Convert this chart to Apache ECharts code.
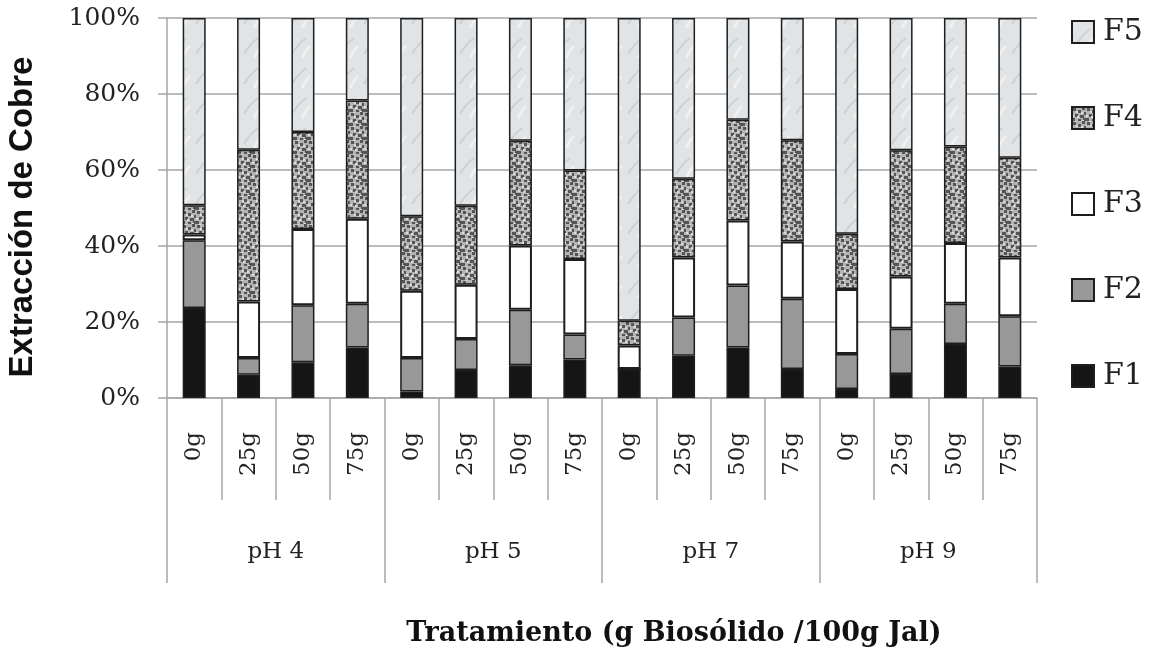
<!DOCTYPE html>
<html>
<head>
<meta charset="utf-8">
<script src="https://cdn.jsdelivr.net/npm/echarts@6/dist/echarts.min.js"></script>
<style>
html,body{margin:0;padding:0;background:#fff;}
#chart{width:1150px;height:656px;}
</style>
</head>
<body>
<div id="chart"></div>
<script>
// ---- data ----
const doses = ['0g','25g','50g','75g','0g','25g','50g','75g','0g','25g','50g','75g','0g','25g','50g','75g'];
const groups = ['pH 4','pH 5','pH 7','pH 9'];
const yTicks = [0, 20, 40, 60, 80, 100];
const F1 = [23.7, 6.1, 9.4, 13.3,  1.7, 7.4, 8.6, 10.1,  7.6, 11.1, 13.3, 7.6,  2.4, 6.3, 14.2, 8.3];
const F2 = [17.8, 4.4, 15.0, 11.5,  8.8, 8.1, 14.6, 6.6,  0.0, 10.1, 16.3, 18.5,  9.2, 11.9, 10.6, 13.2];
const F3 = [1.5, 14.9, 20.1, 22.4,  17.7, 14.3, 16.9, 19.9,  6.2, 15.8, 17.1, 15.1,  17.1, 13.8, 16.0, 15.5];
const F4 = [7.7, 39.9, 25.5, 31.1,  19.6, 20.8, 27.6, 23.3,  6.5, 20.7, 26.5, 26.6,  14.5, 33.2, 25.4, 26.2];
const F5 = [49.3, 34.7, 30.0, 21.7,  52.2, 49.4, 32.3, 40.1,  79.7, 42.3, 26.8, 32.2,  56.8, 34.8, 33.8, 36.8];
const seriesNames = ['F1','F2','F3','F4','F5'];
const seriesData = [F1, F2, F3, F4, F5];
const axisTitleX = 'Tratamiento (g Biosólido /100g Jal)';
const axisTitleY = 'Extracción de Cobre';

// ---- textures (fixed, deterministic) ----
function speckle() {
  const c = document.createElement('canvas');
  c.width = 14; c.height = 14;
  const g = c.getContext('2d');
  g.fillStyle = '#b4b4b4'; g.fillRect(0,0,14,14);
  g.fillStyle = '#555555';
  [[1,1,3,3],[6,3,3,3],[10,0,3,3],[3,7,3,3],[8,8,4,3],[12,5,2,3],[0,11,3,3],[6,12,3,2],[11,11,3,3]].forEach(r=>g.fillRect(r[0],r[1],r[2],r[3]));
  g.fillStyle = '#dcdcdc';
  [[4,4,2,2],[9,5,2,2],[0,8,2,2],[5,9,2,2],[10,13,2,1],[3,0,2,1]].forEach(r=>g.fillRect(r[0],r[1],r[2],r[3]));
  return c;
}
function marble() {
  const c = document.createElement('canvas');
  c.width = 24; c.height = 30;
  const g = c.getContext('2d');
  g.fillStyle = '#e1e4e6'; g.fillRect(0,0,24,30);
  g.strokeStyle = '#cdd1d4'; g.lineWidth = 2;
  g.beginPath(); g.moveTo(4,24); g.quadraticCurveTo(10,14,18,8); g.stroke();
  g.strokeStyle = '#eef0f1'; g.lineWidth = 3;
  g.beginPath(); g.moveTo(14,28); g.quadraticCurveTo(18,20,22,16); g.stroke();
  return c;
}

const fills = ['#151515', '#989898', '#ffffff',
  {image: speckle(), repeat: 'repeat'},
  {image: marble(), repeat: 'repeat'}];

const chart = echarts.init(document.getElementById('chart'), null, {renderer: 'canvas'});

const serif = 'DejaVu Serif';
const gridCol = '#a6a6a6';

const option = {
  backgroundColor: '#ffffff',
  animation: false,
  grid: {left: 167, right: 113, top: 18, bottom: 258, containLabel: false},
  legend: {
    data: ['F5','F4','F3','F2','F1'],
    orient: 'vertical',
    left: 1066, top: 12,
    itemWidth: 22, itemHeight: 22,
    itemGap: 56,
    icon: 'rect',
    textStyle: {fontFamily: serif, fontSize: 30, color: '#222', padding: [0,0,0,4]}
  },
  xAxis: [
    {
      type: 'category',
      data: doses,
      position: 'bottom',
      axisLine: {show: true, lineStyle: {color: gridCol, width: 1.5}},
      axisTick: {show: true, interval: 0, length: 102, lineStyle: {color: gridCol, width: 1.5}},
      axisLabel: {interval: 0, rotate: 90, margin: 34, fontFamily: serif, fontSize: 23, color: '#222'}
    },
    {
      type: 'category',
      data: groups,
      position: 'bottom',
      axisLine: {show: false},
      axisTick: {show: true, interval: 0, length: 185, lineStyle: {color: gridCol, width: 1.5}},
      axisLabel: {interval: 0, margin: 143, fontFamily: serif, fontSize: 23, color: '#222', lineHeight: 23}
    }
  ],
  yAxis: {
    type: 'value',
    min: 0, max: 100, interval: 20,
    axisLine: {show: true, lineStyle: {color: gridCol, width: 1.5}},
    axisTick: {show: true, length: 9, lineStyle: {color: gridCol, width: 1.5}},
    splitLine: {show: true, lineStyle: {color: gridCol, width: 1.5}},
    axisLabel: {margin: 27, fontFamily: serif, fontSize: 25, color: '#222', formatter: v => v + '%'}
  },
  series: seriesNames.map((n, i) => ({
    name: n,
    type: 'bar',
    stack: 'total',
    xAxisIndex: 0,
    barWidth: 23,
    data: seriesData[i],
    itemStyle: {color: fills[i], borderColor: '#1e1e1e', borderWidth: i === 2 ? 2 : 1.5}
  })),
  graphic: [{
    type: 'text',
    x: 674, y: 634,
    style: {text: axisTitleX, fontFamily: serif, fontWeight: 'bold', fontSize: 27, fill: '#111',
            textAlign: 'center', textVerticalAlign: 'middle'}
  }, {
    type: 'text',
    x: 23, y: 217,
    rotation: Math.PI / 2,
    style: {text: axisTitleY, fontFamily: 'Liberation Sans', fontWeight: 'bold', fontSize: 33, fill: '#111',
            textAlign: 'center', textVerticalAlign: 'middle'}
  }]
};
chart.setOption(option);
</script>
</body>
</html>
